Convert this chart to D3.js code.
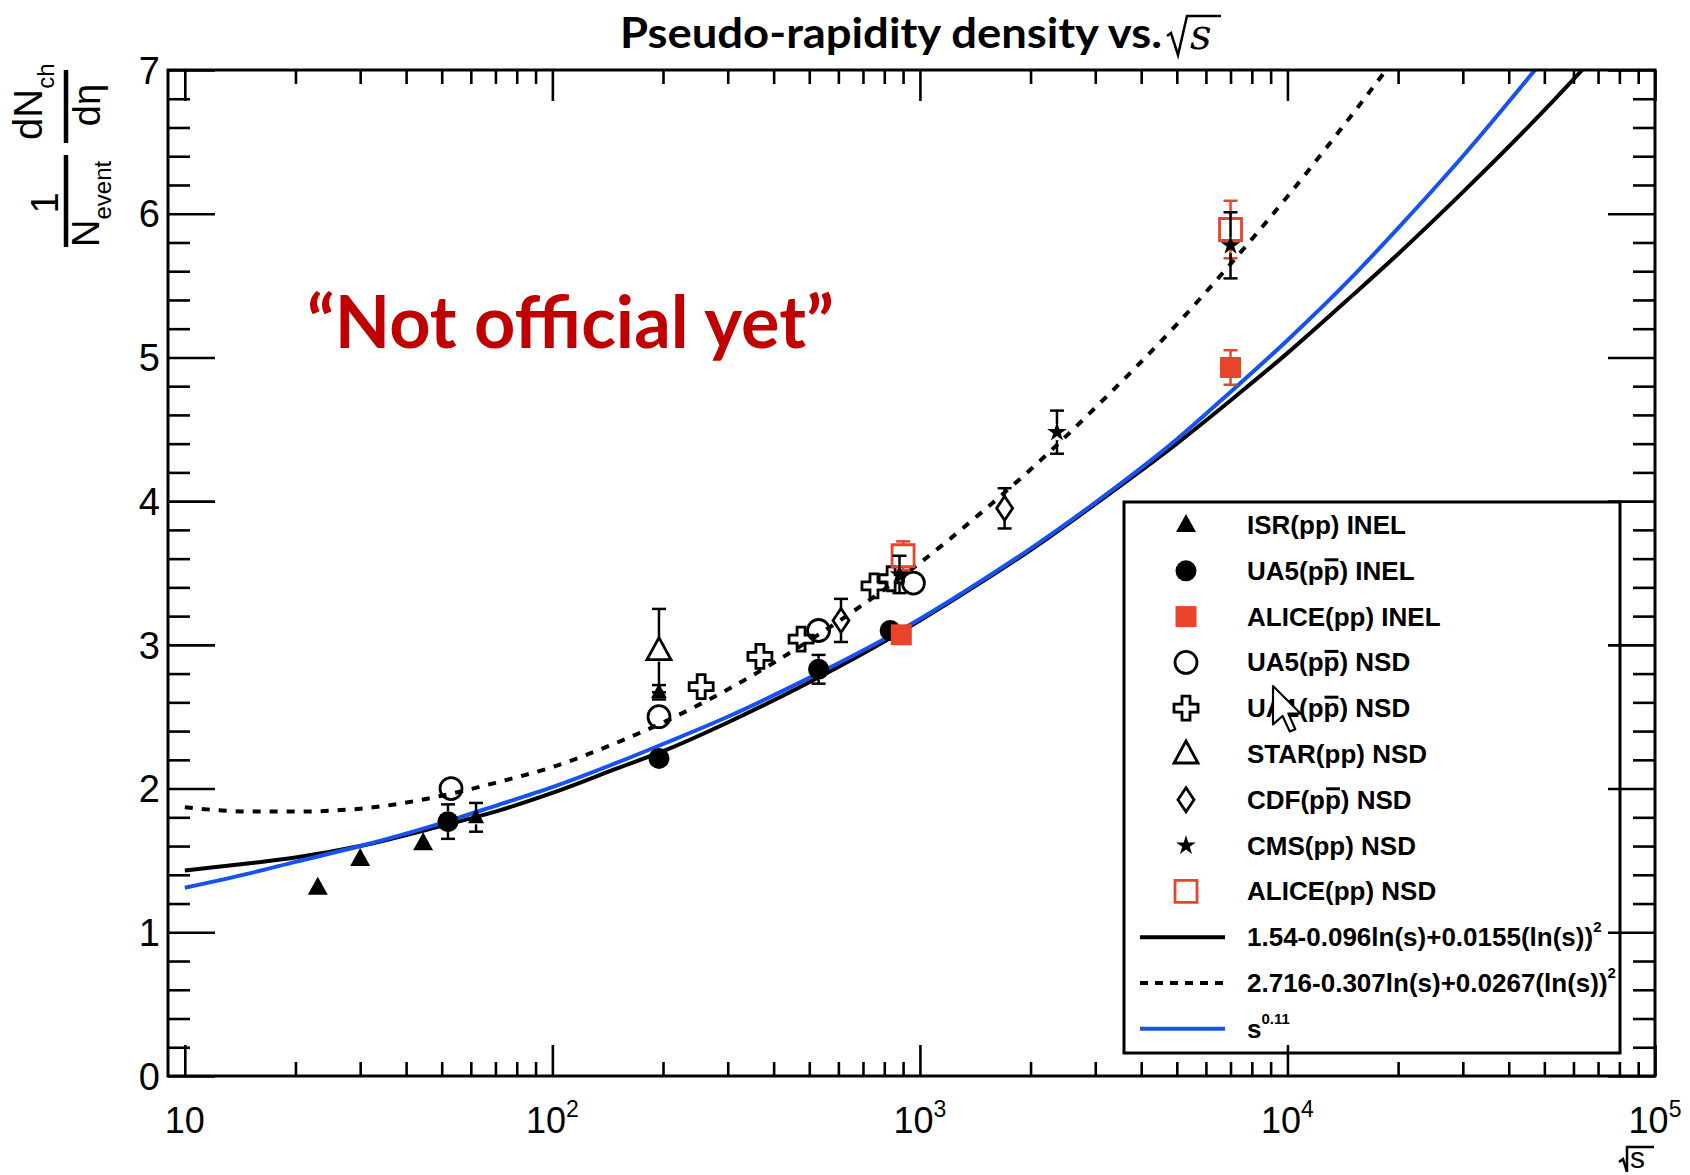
<!DOCTYPE html>
<html>
<head>
<meta charset="utf-8">
<script src="https://cdn.jsdelivr.net/npm/d3@7"></script>
<style>
  body { margin: 0; background: #fff; }
  svg { display: block; }
</style>
</head>
<body>
<div id="chart"></div>
<script>
'use strict';

// measured points, sqrt(s) in GeV
const isrX = [23, 30, 44.5];
const isrY = [1.31, 1.51, 1.62];
const isrErr = [0, 0, 0];

const ua5InelX = [52, 195, 530, 830];
const ua5InelY = [1.77, 2.21, 2.83, 3.10];
const ua5InelErr = [0.12, 0, 0.1, 0];

const aliceInelX = [890, 7000];
const aliceInelY = [3.07, 4.93];
const aliceInelErr = [0, 0.12];

const ua5NsdX = [53, 195, 530, 960];
const ua5NsdY = [2.0, 2.50, 3.10, 3.43];
const ua5NsdErr = [0, 0, 0, 0];

const ua1NsdX = [254, 367, 475, 750, 835];
const ua1NsdY = [2.71, 2.92, 3.04, 3.41, 3.46];
const ua1NsdErr = [0, 0, 0, 0, 0];

const starNsdX = [195];
const starNsdY = [2.96];
const starNsdErr = [0.29];

const cdfNsdX = [610, 1700];
const cdfNsdY = [3.17, 3.95];
const cdfNsdErr = [0.15, 0.14];

const cmsNsdX = [880, 2360, 7000];
const cmsNsdY = [3.49, 4.48, 5.78];
const cmsNsdErr = [0.13, 0.15, 0.23];

const aliceNsdX = [900, 7000];
const aliceNsdY = [3.62, 5.89];
const aliceNsdErr = [0.1, 0.2];

// unlabelled extra points
const otherX = [62, 195];
const otherY = [1.80, 2.67];
const otherErr = [0.1, 0.05];

// fitted curves
const sampleX = [10, 15, 20, 30, 50, 70, 100, 150, 200, 300, 500, 700, 1000, 1500, 2000, 3000, 5000, 7000, 10000, 15000, 20000, 30000, 50000, 70000];
const fitSolidY = [1.43, 1.48, 1.52, 1.60, 1.74, 1.84, 1.97, 2.14, 2.26, 2.46, 2.74, 2.94, 3.17, 3.45, 3.66, 3.98, 4.40, 4.70, 5.03, 5.43, 5.72, 6.15, 6.72, 7.12];
const fitDashedY = [1.87, 1.84, 1.84, 1.86, 1.95, 2.04, 2.15, 2.32, 2.46, 2.69, 3.03, 3.28, 3.57, 3.94, 4.22, 4.65, 5.23, 5.65, 6.12, 6.69, 7.11];
const powerY = [1.31, 1.41, 1.49, 1.60, 1.76, 1.88, 2.01, 2.18, 2.31, 2.50, 2.77, 2.96, 3.18, 3.46, 3.67, 3.99, 4.43, 4.76, 5.12, 5.56, 5.90, 6.40, 7.08];

// axes
const xMajorTicks = [10, 100, 1000, 10000, 100000];
const xTickExp = ['', '2', '3', '4', '5'];
const yMajorTicks = [0, 1, 2, 3, 4, 5, 6, 7];

const legendLabels = [
  'ISR(pp) INEL', 'UA5(pp\u0304) INEL', 'ALICE(pp) INEL', 'UA5(pp\u0304) NSD',
  'UA1(pp\u0304) NSD', 'STAR(pp) NSD', 'CDF(pp\u0304) NSD', 'CMS(pp) NSD', 'ALICE(pp) NSD'
];
const fitLabels = ['1.54-0.096ln(s)+0.0155(ln(s))', '2.716-0.307ln(s)+0.0267(ln(s))', 's'];
const fitSup = ['2', '2', '0.11'];

const W = 1690, H = 1175;
const RED = '#e8442c';
const BLUE = '#1652f0';
const frame = { left: 168, right: 1655, top: 70, bottom: 1076 };

const x = d3.scaleLog().domain([9, 1e5]).range([frame.left, frame.right]);
const y = d3.scaleLinear().domain([0, 7]).range([frame.bottom, frame.top]);

const svg = d3.select('#chart').append('svg')
  .attr('width', W).attr('height', H)
  .style('background', '#fff');

svg.append('defs').append('clipPath').attr('id', 'plotclip')
  .append('rect')
  .attr('x', frame.left).attr('y', frame.top)
  .attr('width', frame.right - frame.left).attr('height', frame.bottom - frame.top);

//marker shapes
const markers = {
  tri:      { d: 'M0,-11L10,7L-10,7Z', fill: '#000', stroke: 'none', half: 10 },
  smallTri: { d: 'M0,-9L8,6L-8,6Z', fill: '#000', stroke: 'none', half: 7 },
  dot:      { d: d3.symbol(d3.symbolCircle, Math.PI * 10.5 * 10.5)(), fill: '#000', stroke: 'none', half: 10.5 },
  sq:       { d: 'M-10.5,-10.5h21v21h-21Z', fill: RED, stroke: 'none', half: 10.5 },
  ring:     { d: d3.symbol(d3.symbolCircle, Math.PI * 11 * 11)(), fill: 'none', stroke: '#000', half: 11 },
  cross:    { d: 'M-4,-12H4V-4H12V4H4V12H-4V4H-12V-4H-4Z', fill: 'none', stroke: '#000', half: 12 },
  openTri:  { d: 'M0,-13L12,9L-12,9Z', fill: 'none', stroke: '#000', half: 11 },
  diamond:  { d: 'M0,-12L8,0L0,12L-8,0Z', fill: 'none', stroke: '#000', half: 12 },
  star:     { d: d3.symbol(d3.symbolStar, 120)(), fill: '#000', stroke: 'none', half: 8 },
  openSq:   { d: 'M-11,-11h22v22h-22Z', fill: 'none', stroke: RED, half: 11 }
};

const series = [
  { xs: isrX, ys: isrY, es: isrErr, m: 'tri', c: '#000' },
  { xs: ua5InelX, ys: ua5InelY, es: ua5InelErr, m: 'dot', c: '#000' },
  { xs: ua5NsdX, ys: ua5NsdY, es: ua5NsdErr, m: 'ring', c: '#000' },
  { xs: ua1NsdX, ys: ua1NsdY, es: ua1NsdErr, m: 'cross', c: '#000' },
  { xs: starNsdX, ys: starNsdY, es: starNsdErr, m: 'openTri', c: '#000' },
  { xs: otherX, ys: otherY, es: otherErr, m: 'smallTri', c: '#000' },
  { xs: cdfNsdX, ys: cdfNsdY, es: cdfNsdErr, m: 'diamond', c: '#000' },
  { xs: aliceInelX, ys: aliceInelY, es: aliceInelErr, m: 'sq', c: RED },
  { xs: aliceNsdX, ys: aliceNsdY, es: aliceNsdErr, m: 'openSq', c: RED },
  { xs: cmsNsdX, ys: cmsNsdY, es: cmsNsdErr, m: 'star', c: '#000' }
];
const legendMarkers = ['tri', 'dot', 'sq', 'ring', 'cross', 'openTri', 'diamond', 'star', 'openSq'];

//curves
const line = d3.line()
  .x(d => x(d[0]))
  .y(d => y(d[1]))
  .curve(d3.curveMonotoneX);

const curves = svg.append('g').attr('clip-path', 'url(#plotclip)').attr('fill', 'none');
curves.append('path')
  .attr('d', line(d3.zip(sampleX, fitDashedY)))
  .attr('stroke', '#000').attr('stroke-width', 4).attr('stroke-dasharray', '8,9');
curves.append('path')
  .attr('d', line(d3.zip(sampleX, fitSolidY)))
  .attr('stroke', '#000').attr('stroke-width', 4);
curves.append('path')
  .attr('d', line(d3.zip(sampleX, powerY)))
  .attr('stroke', BLUE).attr('stroke-width', 4);

//points with error bars
const capW = 7;
series.forEach(s => {
  const mk = markers[s.m];
  const pts = s.xs.map((v, i) => ({ x: v, y: s.ys[i], e: s.es[i] }));
  const g = svg.append('g').selectAll('g')
    .data(pts)
    .enter()
    .append('g')
    .attr('transform', d => 'translate(' + x(d.x) + ',' + y(d.y) + ')');

  g.filter(d => d.e > 0).each(function(d) {
    const el = d3.select(this);
    const up = y(d.y) - y(d.y + d.e);
    const dn = y(d.y - d.e) - y(d.y);
    const eb = el.append('g').attr('stroke', s.c).attr('stroke-width', 2.5);
    if (up > mk.half) eb.append('line').attr('x1', 0).attr('x2', 0).attr('y1', -up).attr('y2', -mk.half);
    if (dn > mk.half) eb.append('line').attr('x1', 0).attr('x2', 0).attr('y1', mk.half).attr('y2', dn);
    eb.append('line').attr('x1', -capW).attr('x2', capW).attr('y1', -up).attr('y2', -up);
    eb.append('line').attr('x1', -capW).attr('x2', capW).attr('y1', dn).attr('y2', dn);
  });

  g.append('path')
    .attr('d', mk.d)
    .attr('fill', mk.fill)
    .attr('stroke', mk.stroke)
    .attr('stroke-width', 2.8);
});

//legend
const leg = { x0: 1124, y0: 502, x1: 1620, y1: 1053, rowY: 525, dy: 45.8, mx: 1186, tx: 1247 };
svg.append('rect')
  .attr('x', leg.x0).attr('y', leg.y0)
  .attr('width', leg.x1 - leg.x0).attr('height', leg.y1 - leg.y0)
  .attr('fill', '#fff').attr('stroke', '#000').attr('stroke-width', 3);

const legFont = 26;
const legG = svg.append('g')
  .attr('font-family', '"Liberation Sans", Arial, sans-serif')
  .attr('font-weight', 'bold')
  .attr('font-size', legFont);

legendLabels.forEach((lab, i) => {
  const cy = leg.rowY + i * leg.dy;
  const mk = markers[legendMarkers[i]];
  legG.append('path')
    .attr('transform', 'translate(' + leg.mx + ',' + cy + ')')
    .attr('d', mk.d)
    .attr('fill', mk.fill)
    .attr('stroke', mk.stroke)
    .attr('stroke-width', 2.8);
  const bar = lab.indexOf('\u0304');
  const t = legG.append('text')
    .attr('x', leg.tx).attr('y', cy + 9)
    .text(lab.replace('\u0304', ''));
  if (bar > 0) {
    const ext = t.node().getExtentOfChar(bar - 1);
    legG.append('line')
      .attr('x1', ext.x + 1).attr('x2', ext.x + ext.width - 1)
      .attr('y1', cy - 11).attr('y2', cy - 11)
      .attr('stroke', '#000').attr('stroke-width', 3);
  }
});

const fitStyles = [
  { c: '#000', dash: null },
  { c: '#000', dash: '8,7' },
  { c: BLUE, dash: null }
];
fitLabels.forEach((lab, j) => {
  const cy = leg.rowY + (legendLabels.length + j) * leg.dy;
  legG.append('line')
    .attr('x1', 1140).attr('x2', 1225).attr('y1', cy).attr('y2', cy)
    .attr('stroke', fitStyles[j].c).attr('stroke-width', 4)
    .attr('stroke-dasharray', fitStyles[j].dash);
  const t = legG.append('text').attr('x', leg.tx).attr('y', cy + 9);
  t.append('tspan').text(lab);
  t.append('tspan').attr('font-size', 15).attr('dy', -14).text(fitSup[j]);
});

//axes: ticks inside on all four sides
const xMinorTicks = [];
[10, 100, 1000, 10000].forEach(d => { for (let k = 2; k <= 9; k++) xMinorTicks.push(k * d); });
const yMinorTicks = d3.range(0, 7.001, 0.2).filter(v => Math.abs(v - Math.round(v)) > 1e-6);

function drawAxis(axis, tx, ty) {
  const g = svg.append('g').attr('transform', 'translate(' + tx + ',' + ty + ')').call(axis);
  g.select('.domain').remove();
  g.selectAll('text').remove();
  g.selectAll('line').attr('stroke', '#000').attr('stroke-width', 2.6);
}
drawAxis(d3.axisBottom(x).tickValues(xMajorTicks).tickSize(-31), 0, frame.bottom);
drawAxis(d3.axisBottom(x).tickValues(xMinorTicks).tickSize(-14), 0, frame.bottom);
drawAxis(d3.axisTop(x).tickValues(xMajorTicks).tickSize(-31), 0, frame.top);
drawAxis(d3.axisTop(x).tickValues(xMinorTicks).tickSize(-14), 0, frame.top);
drawAxis(d3.axisLeft(y).tickValues(yMajorTicks).tickSize(-47), frame.left, 0);
drawAxis(d3.axisLeft(y).tickValues(yMinorTicks).tickSize(-22), frame.left, 0);
drawAxis(d3.axisRight(y).tickValues(yMajorTicks).tickSize(-47), frame.right, 0);
drawAxis(d3.axisRight(y).tickValues(yMinorTicks).tickSize(-22), frame.right, 0);

svg.append('rect')
  .attr('x', frame.left).attr('y', frame.top)
  .attr('width', frame.right - frame.left).attr('height', frame.bottom - frame.top)
  .attr('fill', 'none').attr('stroke', '#000').attr('stroke-width', 3);

//tick labels
const tickFont = '"Liberation Sans", Arial, sans-serif';
svg.append('g').attr('font-family', tickFont).attr('font-size', 38)
  .selectAll('text')
  .data(yMajorTicks)
  .enter()
  .append('text')
  .attr('x', 160)
  .attr('y', d => y(d))
  .attr('dy', '0.36em')
  .attr('text-anchor', 'end')
  .text(d => d);

const xl = svg.append('g').attr('font-family', tickFont).attr('font-size', 36)
  .selectAll('text')
  .data(xMajorTicks)
  .enter()
  .append('text')
  .attr('x', d => x(d))
  .attr('y', 1133)
  .attr('text-anchor', 'middle');
xl.append('tspan').text('10');
xl.append('tspan').attr('font-size', 23).attr('dy', -16).text((d, i) => xTickExp[i]);

//x axis title: sqrt(s)
svg.append('path')
  .attr('d', 'M1619,1162L1623,1159L1627,1172L1627,1147L1654,1147')
  .attr('fill', 'none').attr('stroke', '#000').attr('stroke-width', 2.5);
svg.append('text')
  .attr('x', 1630).attr('y', 1168)
  .attr('font-family', tickFont).attr('font-size', 30)
  .text('s');

//y axis title: 1/N_event dN_ch/deta, rotated
const yl = svg.append('g')
  .attr('transform', 'translate(66,158) rotate(-90)')
  .attr('font-family', tickFont);
yl.append('line').attr('x1', -89).attr('x2', 3).attr('y1', 0).attr('y2', 0)
  .attr('stroke', '#000').attr('stroke-width', 4.5);
yl.append('text').attr('x', -45).attr('y', -8).attr('text-anchor', 'middle')
  .attr('font-size', 38).text('1');
const den = yl.append('text').attr('x', -89).attr('y', 33).attr('font-size', 38);
den.append('tspan').text('N');
den.append('tspan').attr('font-size', 24).attr('dy', 12).text('event');

yl.append('line').attr('x1', 15).attr('x2', 88).attr('y1', 0).attr('y2', 0)
  .attr('stroke', '#000').attr('stroke-width', 4.5);
const num = yl.append('text').attr('x', 18).attr('y', -24).attr('font-size', 40);
num.append('tspan').text('dN');
num.append('tspan').attr('font-size', 24).attr('dy', 12).text('ch');
yl.append('text').attr('x', 53).attr('y', 34).attr('text-anchor', 'middle')
  .attr('font-size', 38).text('d\u03b7');

//title with sqrt(s)
const titleFont = 'Lato, "Open Sans", sans-serif';
const titleX0 = 620, titleX1 = 1162;
const title = svg.append('text')
  .attr('x', titleX0).attr('y', 48)
  .attr('font-family', titleFont).attr('font-weight', 'bold').attr('font-size', 42)
  .text('Pseudo-rapidity density vs.');
const tw = title.node().getComputedTextLength();
if (Math.abs(tw - (titleX1 - titleX0)) > 4) {
  title.attr('textLength', titleX1 - titleX0).attr('lengthAdjust', 'spacingAndGlyphs');
}
const rx = titleX1 + 5;
svg.append('path')
  .attr('d', 'M' + rx + ',36L' + (rx + 4) + ',33L' + (rx + 11) + ',55L' + (rx + 20) + ',16L' + (rx + 54) + ',16')
  .attr('fill', 'none').attr('stroke', '#000').attr('stroke-width', 2.5);
svg.append('text')
  .attr('x', rx + 23).attr('y', 49)
  .attr('font-family', '"DejaVu Serif", "Liberation Serif", serif')
  .attr('font-style', 'italic').attr('font-size', 42)
  .text('s');

//watermark note
svg.append('text')
  .attr('x', 307).attr('y', 348)
  .attr('font-family', titleFont).attr('font-weight', 'bold').attr('font-size', 72)
  .attr('fill', '#c00000')
  .text('\u201cNot official yet\u201d');

//mouse pointer over the legend
svg.append('path')
  .attr('transform', 'translate(1273,686) scale(2.4)')
  .attr('d', 'M0,0L0,16L4,12.5L7,19L9.3,18L6.4,11.5L11.5,11.5Z')
  .attr('fill', '#fff').attr('stroke', '#000').attr('stroke-width', 0.9)
  .attr('stroke-linejoin', 'round');
</script>
</body>
</html>
